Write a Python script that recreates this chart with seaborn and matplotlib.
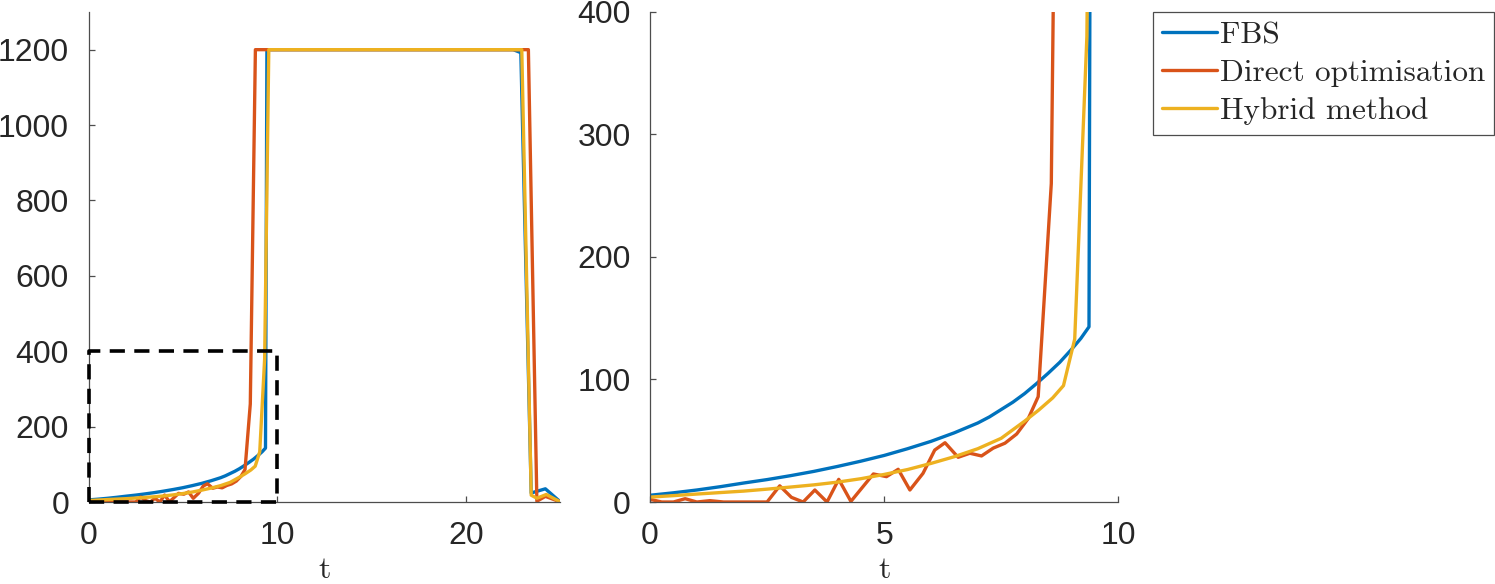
import numpy as np
import pandas as pd
import seaborn as sns
import matplotlib.pyplot as plt

# series (t, value)
fbs_t = [0, 0.5, 1, 1.5, 2, 2.5, 3, 3.5, 4, 4.5, 5, 5.5, 6, 6.5, 7, 7.25, 7.5, 7.75, 8, 8.25,
         8.5, 8.75, 9, 9.2, 9.375, 9.45, 22.5, 22.9, 23.45, 24.2, 25]
fbs_v = [5.5, 7.5, 9.8, 12.5, 15.5, 18.3, 21.5, 25, 29, 33.3, 38, 43.5, 49.5, 56.5, 64.5, 69.5,
         75.5, 81.5, 88.5, 96.5, 105, 114, 124.5, 133.5, 143, 1200, 1200, 1192, 24, 35, 0]

direct_t = [0, 0.25, 0.5, 0.75, 1.0, 1.28, 1.57, 2.5, 2.77, 3.02, 3.27, 3.52, 3.78, 4.03, 4.29,
            4.77, 5.05, 5.3, 5.55, 5.83, 6.08, 6.3, 6.58, 6.83, 7.08, 7.33, 7.58, 7.83, 8.08,
            8.29, 8.57, 8.84, 23.3, 23.75, 24.2, 25]
direct_v = [2.2, 0, 0, 2.7, 0, 1.1, 0, 0, 13.2, 3.8, 0, 9.8, 0, 18.5, 0.5,
            22.9, 20.7, 26.7, 9.8, 23.4, 42.4, 48.4, 36.5, 39.8, 37.6, 44, 48, 55.5, 68.3,
            86, 260, 1200, 1200, 2, 15, 0]

hybrid_t = [0, 0.5, 1.0, 1.5, 2.0, 2.5, 3.0, 3.5, 4.0, 4.5, 5.0, 5.5, 6.0, 6.5, 7.0, 7.5, 8.0,
            8.3, 8.6, 8.83, 9.07, 9.33, 9.55, 22.95, 23.45, 23.75, 24.25, 25]
hybrid_v = [4, 5.2, 6.5, 7.7, 8.9, 10.5, 12.2, 14, 16.2, 19, 22.5, 26.5, 31.5, 37, 43.5, 52, 66,
            75, 85, 95, 133, 380, 1200, 1200, 18, 10, 20, 0]

labels = ["FBS", "Direct optimisation", "Hybrid method"]
colors = ["#0072BD", "#D95319", "#EDB120"]

df = pd.concat([
    pd.DataFrame({"t": fbs_t, "u": fbs_v, "method": labels[0]}),
    pd.DataFrame({"t": direct_t, "u": direct_v, "method": labels[1]}),
    pd.DataFrame({"t": hybrid_t, "u": hybrid_v, "method": labels[2]}),
])

sns.set_style("ticks")
plt.rcParams['font.family'] = ['Liberation Sans', 'DejaVu Sans']

fig = plt.figure(figsize=(14.95, 5.84), dpi=100)
ax1 = fig.add_axes([0.0592, 0.1404, 0.3157, 0.8391])
ax2 = fig.add_axes([0.4348, 0.1404, 0.3132, 0.8391])

for ax in (ax1, ax2):
    sns.lineplot(data=df, x="t", y="u", hue="method", hue_order=labels,
                 palette=colors, estimator=None, sort=False, lw=2.4, ax=ax, legend=False)

# zoom box
box_x = [0, 10, 10, 0, 0]
box_y = [0, 0, 400, 400, 0]
ax1.plot(box_x, box_y, color="k", lw=2.6, dashes=(4.2, 2.6), clip_on=False, zorder=5)

ax1.set_xlim(0, 25)
ax1.set_ylim(0, 1300)
ax1.set_xticks([0, 10, 20])
ax1.set_yticks([0, 200, 400, 600, 800, 1000, 1200])
ax2.set_xlim(0, 10)
ax2.set_ylim(0, 400)
ax2.set_xticks([0, 5, 10])
ax2.set_yticks([0, 100, 200, 300, 400])

for ax in (ax1, ax2):
    sns.despine(ax=ax)
    for s in ("left", "bottom"):
        ax.spines[s].set_color("#4d4d4d")
        ax.spines[s].set_linewidth(0.9)
    ax.tick_params(direction="in", length=4, width=0.9, color="#4d4d4d",
                   labelsize=23, labelcolor="#262626")
    ax.tick_params(axis="y", pad=14)
    ax.tick_params(axis="x", pad=14)
    ax.set_xlabel("t", family="cmr10", fontsize=23, labelpad=4)
    ax.set_ylabel("")

handles = [plt.Line2D([], [], color=c, lw=2.4) for c in colors]
leg = fig.legend(handles, labels, loc="upper left", bbox_to_anchor=(0.7712, 0.9795),
                 prop={"family": "cmr10", "size": 22.5}, frameon=True, fancybox=False,
                 framealpha=1, edgecolor="#4d4d4d", handlelength=1.75, handletextpad=0.08,
                 labelspacing=0.32, borderpad=0.3, borderaxespad=0)
leg.get_frame().set_linewidth(0.9)

fig.savefig("out.png", dpi=100)
